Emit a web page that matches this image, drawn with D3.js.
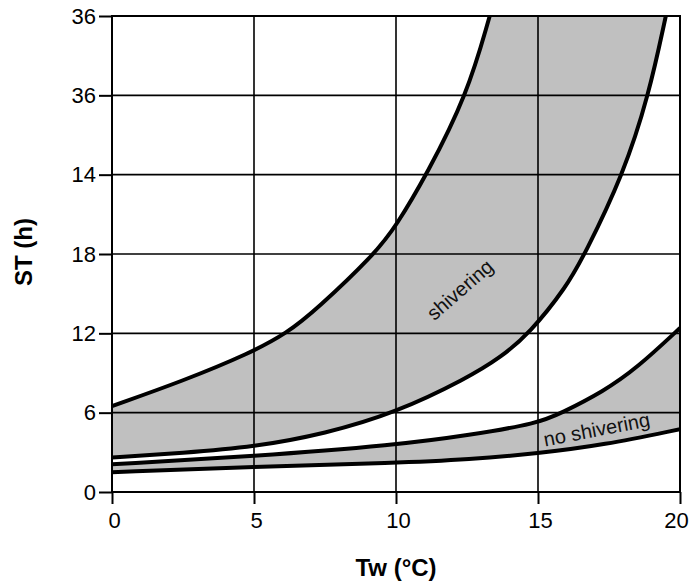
<!DOCTYPE html>
<html>
<head>
<meta charset="utf-8">
<script src="https://cdn.jsdelivr.net/npm/d3@7"></script>
<style>
  body { margin: 0; background: #fff; }
  text { font-family: "Liberation Sans", Arial, Helvetica, sans-serif; }
</style>
</head>
<body>
<svg id="chart" width="691" height="585"></svg>
<script>
// tick values + labels (the y labels are printed like this in the source figure)
var xTicks = [0, 5, 10, 15, 20]
var yTicks = [0, 6, 12, 18, 24, 30, 36]
var yTickLabels = ["0", "6", "12", "18", "14", "36", "36"]

// boundary curves, [Tw, ST]
var shiverUpper = [[0,6.5],[2.5,8.4],[4.86,10.5],[6.15,12],[7.2,13.8],[9.25,18],[10,20.1],[11.08,24],[12.5,30],[13.3,36]]
var shiverLower = [[0,2.6],[2.5,2.95],[5,3.4],[7.5,4.4],[10,6.0],[12.5,8.6],[13.7,10.2],[14.7,12],[16,15.5],[16.65,18],[18,24],[18.9,30],[19.5,36]]
var noShiverUpper = [[0,2.1],[5,2.7],[10,3.55],[12.6,4.3],[15,5.2],[15.8,5.95],[17.3,7.6],[18.5,9.4],[20,12.4]]
var noShiverLower = [[0,1.5],[5,1.9],[10,2.2],[12.6,2.47],[15,2.92],[17.3,3.55],[20,4.75]]

var margin = {left: 112, right: 11, top: 16, bottom: 93}
var W = 691, H = 585
var svg = d3.select("#chart")

var x = d3.scaleLinear().domain([0, 20]).range([margin.left, W - margin.right])
var y = d3.scaleLinear().domain([0, 36]).range([H - margin.bottom, margin.top])

var SHADE = "#c0c0c0"

svg.append("clipPath").attr("id", "plotclip")
  .append("rect")
  .attr("x", x(0)).attr("y", y(36))
  .attr("width", x(20) - x(0)).attr("height", y(0) - y(36))

// basis spline smooths out the reading noise
var line = d3.line()
  .x(d => x(d[0])).y(d => y(d[1]))
  .curve(d3.curveBasis)

function band(a, b){
  // a forward, b backward -> closed shape
  return line(a) + line(b.slice().reverse()).replace(/^M/, "L") + "Z"
}

var plot = svg.append("g").attr("clip-path", "url(#plotclip)")

// shaded bands
plot.append("path").attr("d", band(shiverUpper, shiverLower)).attr("fill", SHADE)
plot.append("path").attr("d", band(noShiverUpper, noShiverLower)).attr("fill", SHADE)

// grid
plot.selectAll(".vgrid").data(xTicks).enter().append("line")
  .attr("class", "vgrid")
  .attr("x1", d => x(d)).attr("x2", d => x(d))
  .attr("y1", y(0)).attr("y2", y(36))
  .attr("stroke", "#000").attr("stroke-width", 1.6)
plot.selectAll(".hgrid").data(yTicks).enter().append("line")
  .attr("class", "hgrid")
  .attr("x1", x(0)).attr("x2", x(20))
  .attr("y1", d => y(d)).attr("y2", d => y(d))
  .attr("stroke", "#000").attr("stroke-width", 1.6)

// curves
;[shiverUpper, shiverLower, noShiverUpper, noShiverLower].forEach(c => {
  plot.append("path").attr("d", line(c))
    .attr("fill", "none").attr("stroke", "#000").attr("stroke-width", 4)
})

// frame
svg.append("rect")
  .attr("x", x(0)).attr("y", y(36))
  .attr("width", x(20) - x(0)).attr("height", y(0) - y(36))
  .attr("fill", "none").attr("stroke", "#000").attr("stroke-width", 2)

// axes
var xAxis = d3.axisBottom(x).tickValues(xTicks).tickSize(12).tickPadding(8)
var yAxis = d3.axisLeft(y).tickValues(yTicks).tickSize(13).tickPadding(3)
  .tickFormat((d, i) => yTickLabels[i])

var gx = svg.append("g").attr("transform", "translate(0," + y(0) + ")").call(xAxis)
var gy = svg.append("g").attr("transform", "translate(" + x(0) + ",0)").call(yAxis)
;[gx, gy].forEach(g => {
  g.select(".domain").remove()
  g.selectAll(".tick line").attr("stroke", "#000").attr("stroke-width", 2)
  g.selectAll(".tick text").attr("font-size", 22).attr("fill", "#000")
    .style("font-family", "'Liberation Sans', Arial, sans-serif")
})
gx.selectAll(".tick text").attr("dx", 2)
gx.selectAll(".tick text").filter(d => d == 20).attr("dx", -4)

// axis titles
svg.append("text")
  .attr("transform", "translate(32," + (y(18) - 2) + ") rotate(-90)")
  .attr("text-anchor", "middle")
  .attr("font-size", 24).attr("font-weight", "bold")
  .text("ST (h)")
svg.append("text")
  .attr("x", (x(0) + x(20)) / 2).attr("y", 576)
  .attr("text-anchor", "middle")
  .attr("font-size", 24).attr("font-weight", "bold")
  .text("Tw (°C)")

// band labels
svg.append("text")
  .attr("transform", "translate(461,291) rotate(-41)")
  .attr("text-anchor", "middle").attr("dominant-baseline", "middle")
  .attr("font-size", 20).attr("fill", "#111")
  .text("shivering")
svg.append("text")
  .attr("transform", "translate(597,431) rotate(-11)")
  .attr("text-anchor", "middle").attr("dominant-baseline", "middle")
  .attr("font-size", 20).attr("fill", "#111")
  .text("no shivering")
</script>
</body>
</html>
